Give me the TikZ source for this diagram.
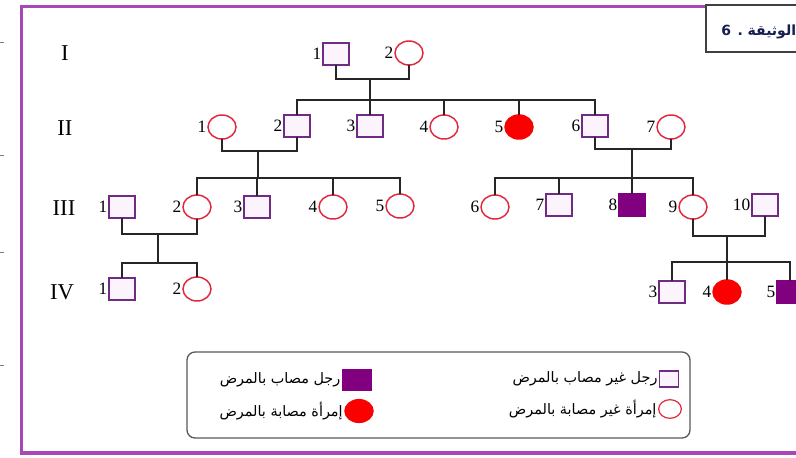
\documentclass[tikz,border=0pt]{standalone}
\usepackage{fontspec}
\setmainfont{Liberation Serif}
\newfontfamily\arabicfont[Script=Arabic]{DejaVu Sans}
\TeXXeTstate=1
\usetikzlibrary{shapes.geometric}
\definecolor{framepurple}{RGB}{168,72,184}
\definecolor{malecol}{RGB}{112,44,132}
\definecolor{malefill}{RGB}{251,244,252}
\definecolor{femcol}{RGB}{226,40,62}
\definecolor{affpurple}{RGB}{128,0,128}
\definecolor{affred}{RGB}{250,0,0}
\definecolor{titlecol}{RGB}{20,30,80}
\begin{document}
\begin{tikzpicture}[x=0.75pt,y=-0.75pt,
  male/.style={rectangle,draw=malecol,fill=malefill,line width=1.1pt,
    minimum width=19.5pt,minimum height=16.5pt,inner sep=0pt},
  female/.style={ellipse,draw=femcol,fill=white,line width=1.1pt,
    minimum width=21pt,minimum height=18pt,inner sep=0pt},
  affm/.style={male,draw=affpurple,fill=affpurple},
  afff/.style={female,draw=affred,fill=affred},
  num/.style={font=\fontsize{13}{13}\selectfont,inner sep=0.6pt},
  gen/.style={font=\fontsize{17}{17}\selectfont},
  link/.style={line width=1.4pt,black!85,line cap=rect},
  legtext/.style={font=\arabicfont\fontsize{10.8}{11}\selectfont,anchor=east,inner sep=1pt}]
\useasboundingbox (0,0) rectangle (796,457);

% outer frame and margin ticks
\draw[framepurple,line width=2.4pt] (21.5,6.5) rectangle (830,453);
\foreach \t in {42,155,252,365} \draw[gray,line width=0.6pt] (0,\t) -- (4,\t);

% title box
\draw[black!75,line width=0.9pt,fill=white] (706,5) rectangle (830,52);
\node[anchor=west,inner sep=0pt,text=titlecol,font=\arabicfont\bfseries\fontsize{10.5}{11}\selectfont]
  (title) at (721,32) {\beginR الوثيقة . 6\endR};

% generation numbers
\node[gen] (gI)   at (65,53)  {I};
\node[gen] (gII)  at (65,128) {II};
\node[gen] (gIII) at (64,208) {III};
\node[gen] (gIV)  at (62,292) {IV};

% generation I
\node[male,label={[num]left:1}]   (I1) at (336,54) {};
\node[female,label={[num]left:2}] (I2) at (409,53) {};

% generation II
\node[female,label={[num]left:1}] (II1) at (222,127) {};
\node[male,label={[num]left:2}]   (II2) at (297,126) {};
\node[male,label={[num]left:3}]   (II3) at (370,126) {};
\node[female,label={[num]left:4}] (II4) at (444,127) {};
\node[afff,label={[num]left:5}]   (II5) at (519,127) {};
\node[male,label={[num]left:6}]   (II6) at (595,126) {};
\node[female,label={[num]left:7}] (II7) at (671,127) {};

% generation III
\node[male,label={[num]left:1}]    (III1)  at (122,207) {};
\node[female,label={[num]left:2}]  (III2)  at (197,207) {};
\node[male,label={[num]left:3}]    (III3)  at (257,207) {};
\node[female,label={[num]left:4}]  (III4)  at (333,207) {};
\node[female,label={[num]left:5}]  (III5)  at (400,206) {};
\node[female,label={[num]left:6}]  (III6)  at (495,207) {};
\node[male,label={[num]left:7}]    (III7)  at (559,205) {};
\node[affm,label={[num]left:8}]    (III8)  at (632,205) {};
\node[female,label={[num]left:9}]  (III9)  at (693,207) {};
\node[male,label={[num]left:10}]   (III10) at (765,205) {};

% generation IV
\node[male,label={[num]left:1}]   (IV1) at (122,289) {};
\node[female,label={[num]left:2}] (IV2) at (197,289) {};
\node[male,label={[num]left:3}]   (IV3) at (672,292) {};
\node[afff,label={[num]left:4}]   (IV4) at (727,292) {};
\node[affm,label={[num]left:5}]   (IV5) at (790,292) {};

% marriage and sibship junctions
\coordinate (mI)    at (370,79);
\coordinate (sII)   at (370,100);
\coordinate (mIIa)  at (258,151);
\coordinate (sIIIa) at (258,178);
\coordinate (mIIb)  at (632,149);
\coordinate (sIIIb) at (632,178);
\coordinate (mIIIa) at (158,234);
\coordinate (sIVa)  at (158,263);
\coordinate (mIIIb) at (727,236);
\coordinate (sIVb)  at (727,262);

% I-1 x I-2
\draw[link] (I1) |- (mI) -| (I2);
\draw[link] (mI) -- (sII);
\draw[link] (II2) |- (sII) -| (II6);
\foreach \c in {II3,II4,II5} \draw[link] (\c) -- (\c |- sII);

% II-1 x II-2
\draw[link] (II1) |- (mIIa) -| (II2);
\draw[link] (mIIa) -- (sIIIa);
\draw[link] (III2) |- (sIIIa) -| (III5);
\foreach \c in {III3,III4} \draw[link] (\c) -- (\c |- sIIIa);

% II-6 x II-7
\draw[link] (II6) |- (mIIb) -| (II7);
\draw[link] (mIIb) -- (sIIIb);
\draw[link] (III6) |- (sIIIb) -| (III9);
\foreach \c in {III7,III8} \draw[link] (\c) -- (\c |- sIIIb);

% III-1 x III-2
\draw[link] (III1) |- (mIIIa) -| (III2);
\draw[link] (mIIIa) -- (sIVa);
\draw[link] (IV1) |- (sIVa) -| (IV2);

% III-9 x III-10
\draw[link] (III9) |- (mIIIb) -| (III10);
\draw[link] (mIIIb) -- (sIVb);
\draw[link] (IV3) |- (sIVb) -| (IV5);
\draw[link] (IV4) -- (IV4 |- sIVb);

% legend
\draw[black!65,line width=1pt,rounded corners=6pt] (187,352) rectangle (690,438);
\node[affm,minimum width=21.5pt,minimum height=15pt] (lam) at (357,380) {};
\node[afff,minimum width=21pt,minimum height=17pt]   (laf) at (359,411) {};
\node[male,minimum width=14pt,minimum height=12pt,line width=0.9pt]   (lum) at (669,379) {};
\node[female,minimum width=17pt,minimum height=14pt,line width=0.9pt] (luf) at (670,409) {};
\node[legtext] (tam) at (lam.west) {\beginR رجل مصاب بالمرض\endR};
\node[legtext] (taf) at (laf.west) {\beginR إمرأة مصابة بالمرض\endR};
\node[legtext] (tum) at (lum.west) {\beginR رجل غير مصاب بالمرض\endR};
\node[legtext] (tuf) at (luf.west) {\beginR إمرأة غير مصابة بالمرض\endR};
\end{tikzpicture}
\end{document}
